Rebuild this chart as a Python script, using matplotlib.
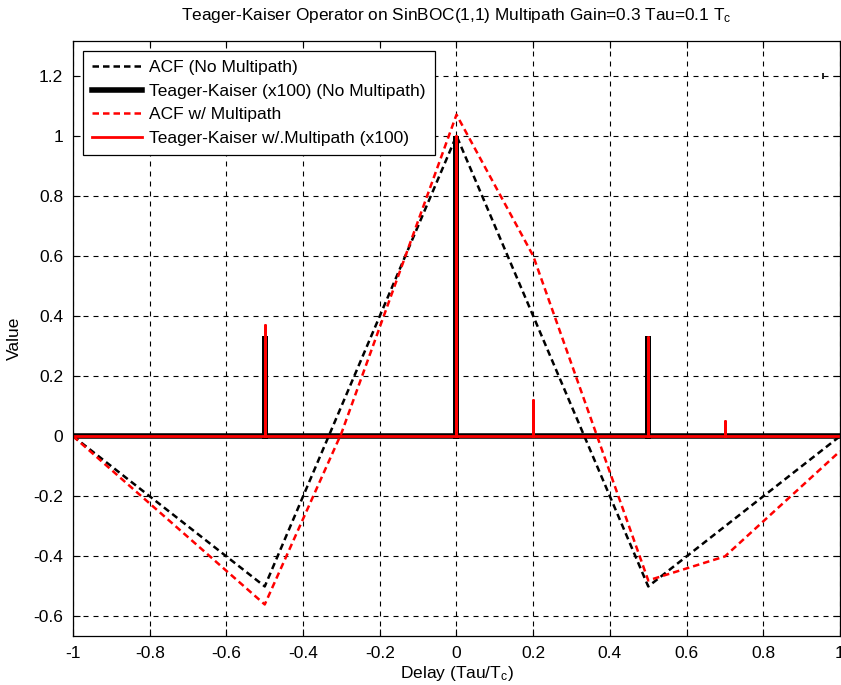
import numpy as np
import matplotlib.pyplot as plt

plt.rcParams['font.family'] = ['Liberation Sans', 'DejaVu Sans']
plt.rcParams['mathtext.default'] = 'regular'

# ACF without multipath (SinBOC(1,1) triangle shape)
acf_x = [-1.0, -0.5, 0.0, 0.5, 1.0]
acf_y = [0.0, -0.5, 1.0, -0.5, 0.0]

# ACF with multipath
acf_mp_x = [-1.0, -0.5, -0.3, 0.0, 0.2, 0.5, 0.7, 1.0]
acf_mp_y = [0.0, -0.56, 0.01, 1.07, 0.6, -0.48, -0.40, -0.05]

# Teager-Kaiser output (x100): spike positions and heights
tk_pos = [-0.5, 0.0, 0.5]
tk_val = [0.335, 1.0, 0.335]
tk_mp_pos = [-0.5, 0.0, 0.2, 0.5, 0.7]
tk_mp_val = [0.37, 1.0, 0.12, 0.33, 0.05]

xticks = [-1, -0.8, -0.6, -0.4, -0.2, 0, 0.2, 0.4, 0.6, 0.8, 1]
yticks = [-0.6, -0.4, -0.2, 0, 0.2, 0.4, 0.6, 0.8, 1, 1.2]


def spikes(pos, val):
    # baseline at zero with a one-sample spike at each position
    xs, ys = [-1.0], [0.0]
    for p, v in zip(pos, val):
        xs += [p, p, p]
        ys += [0.0, v, 0.0]
    xs.append(1.0)
    ys.append(0.0)
    return xs, ys


fig = plt.figure(figsize=(8.41, 6.85), dpi=100)
ax = fig.add_axes([0.0868, 0.0715, 0.912, 0.8686])

dash = (0, (2.6, 1.6))
ax.plot(acf_x, acf_y, color='black', lw=1.8, linestyle=dash, label='ACF (No Multipath)')
tx, ty = spikes(tk_pos, tk_val)
ax.plot(tx, ty, color='black', lw=4, solid_joinstyle='miter',
        label='Teager-Kaiser (x100) (No Multipath)')
ax.plot(acf_mp_x, acf_mp_y, color='red', lw=1.8, linestyle=dash, label='ACF w/ Multipath')
mx, my = spikes(tk_mp_pos, tk_mp_val)
ax.plot(mx, my, color='red', lw=2, label='Teager-Kaiser w/.Multipath (x100)')
# stray point near the upper right corner
ax.plot([0.955], [1.2], marker='|', ms=5, mew=1.2, color='black', ls='none')

ax.set_xlim(-1, 1)
ax.set_ylim(-0.665, 1.315)
ax.set_xticks(xticks)
ax.set_xticklabels(['%g' % t for t in xticks])
ax.set_yticks(yticks)
ax.set_yticklabels(['%g' % t for t in yticks])
ax.tick_params(direction='in', top=True, right=True, length=5, width=0.8,
               labelsize=12.5, pad=7)
ax.grid(True, color='black', linestyle=(0, (4.5, 4.5)), lw=0.8)
for s in ax.spines.values():
    s.set_linewidth(0.9)

ax.set_xlabel('Delay (Tau/T$_c$)', fontsize=12.5, labelpad=2)
ax.set_ylabel('Value', fontsize=12.5, labelpad=8)
ax.set_title('Teager-Kaiser Operator on SinBOC(1,1) Multipath Gain=0.3 Tau=0.1 T$_c$',
             fontsize=12.4, pad=15)

leg = ax.legend(loc='upper left', bbox_to_anchor=(0.0, 1.0), fontsize=12.5,
                frameon=True, fancybox=False, edgecolor='black', framealpha=1,
                borderpad=0.55, labelspacing=0.48, handlelength=2.9, handletextpad=0.4,
                borderaxespad=0.55)
leg.get_frame().set_linewidth(0.9)

fig.savefig('out.png', dpi=100)
